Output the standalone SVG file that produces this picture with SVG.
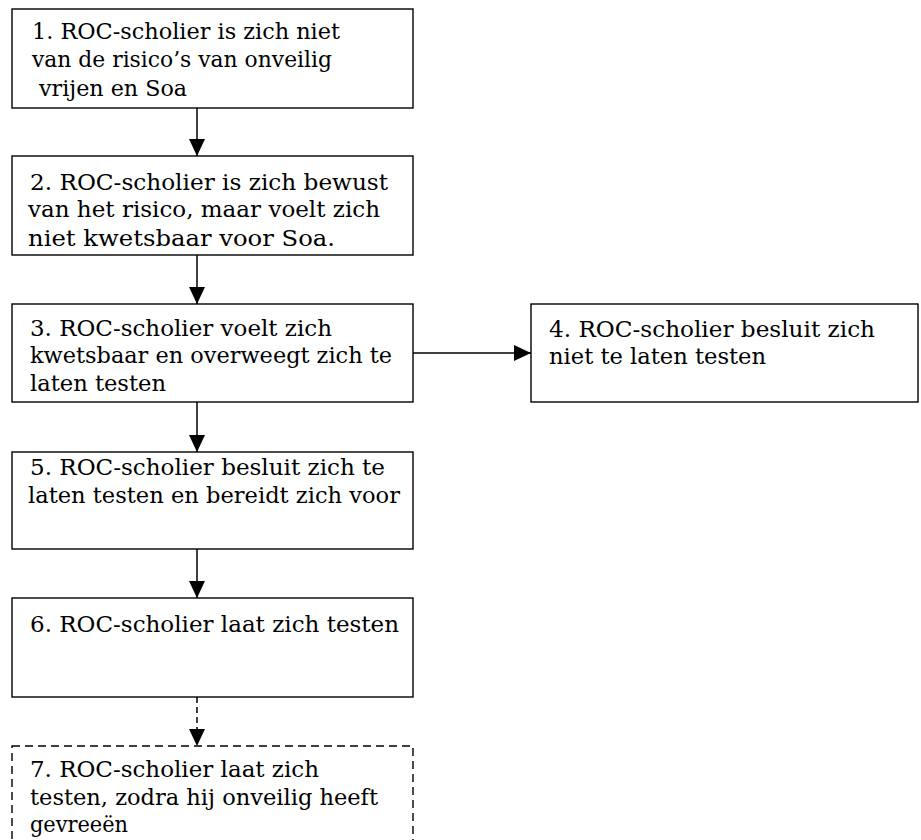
<svg xmlns="http://www.w3.org/2000/svg" width="921" height="840" viewBox="0 0 921 840">
<style>
.box{fill:#fff;stroke:#000;stroke-width:1.4}
.dbox{fill:#fff;stroke:#000;stroke-width:1.4;stroke-dasharray:8 5}
.t{font-family:"DejaVu Serif","Liberation Serif",serif;font-size:22px;fill:#000}
.c{stroke:#000;stroke-width:1.5;fill:none}
.cd{stroke:#000;stroke-width:1.5;fill:none;stroke-dasharray:6 4}
</style>
<defs>
<marker id="ah" markerUnits="userSpaceOnUse" markerWidth="17" markerHeight="16" refX="17" refY="8" orient="auto">
<path d="M0,0 L17,8 L0,16 z" fill="#000"/>
</marker>
</defs>
<rect width="921" height="840" fill="#fff"/>
<g id="connectors">
<line class="c" x1="197" y1="108" x2="197" y2="156" marker-end="url(#ah)"/>
<line class="c" x1="197" y1="255" x2="197" y2="304" marker-end="url(#ah)"/>
<line class="c" x1="197" y1="402" x2="197" y2="452" marker-end="url(#ah)"/>
<line class="c" x1="197" y1="549" x2="197" y2="598" marker-end="url(#ah)"/>
<line class="cd" x1="197" y1="697" x2="197" y2="746" marker-end="url(#ah)"/>
<line class="c" x1="413" y1="353" x2="531" y2="353" marker-end="url(#ah)"/>
</g>
<g id="node1">
<rect class="box" x="12" y="9" width="401" height="99"/>
<text class="t" x="32" y="39" textLength="308" lengthAdjust="spacingAndGlyphs">1. ROC-scholier is zich niet</text>
<text class="t" x="32" y="67" textLength="300" lengthAdjust="spacingAndGlyphs">van de risico’s van onveilig</text>
<text class="t" x="39" y="96" textLength="148" lengthAdjust="spacingAndGlyphs">vrijen en Soa</text>
</g>
<g id="node2">
<rect class="box" x="12" y="156" width="401" height="99"/>
<text class="t" x="30" y="190" textLength="358" lengthAdjust="spacingAndGlyphs">2. ROC-scholier is zich bewust</text>
<text class="t" x="28" y="217" textLength="352" lengthAdjust="spacingAndGlyphs">van het risico, maar voelt zich</text>
<text class="t" x="28" y="246" textLength="307" lengthAdjust="spacingAndGlyphs">niet kwetsbaar voor Soa.</text>
</g>
<g id="node3">
<rect class="box" x="12" y="304" width="401" height="98"/>
<text class="t" x="30" y="336" textLength="302" lengthAdjust="spacingAndGlyphs">3. ROC-scholier voelt zich</text>
<text class="t" x="30" y="363" textLength="362" lengthAdjust="spacingAndGlyphs">kwetsbaar en overweegt zich te</text>
<text class="t" x="30" y="391" textLength="136" lengthAdjust="spacingAndGlyphs">laten testen</text>
</g>
<g id="node4">
<rect class="box" x="531" y="304" width="387" height="98"/>
<text class="t" x="549" y="337" textLength="326" lengthAdjust="spacingAndGlyphs">4. ROC-scholier besluit zich</text>
<text class="t" x="549" y="364" textLength="217" lengthAdjust="spacingAndGlyphs">niet te laten testen</text>
</g>
<g id="node5">
<rect class="box" x="12" y="452" width="401" height="97"/>
<text class="t" x="30" y="475" textLength="355" lengthAdjust="spacingAndGlyphs">5. ROC-scholier besluit zich te</text>
<text class="t" x="28" y="503" textLength="372" lengthAdjust="spacingAndGlyphs">laten testen en bereidt zich voor</text>
</g>
<g id="node6">
<rect class="box" x="12" y="598" width="401" height="99"/>
<text class="t" x="30" y="632" textLength="369" lengthAdjust="spacingAndGlyphs">6. ROC-scholier laat zich testen</text>
</g>
<g id="node7">
<rect class="dbox" x="12" y="746" width="401" height="120"/>
<text class="t" x="30" y="777" textLength="289" lengthAdjust="spacingAndGlyphs">7. ROC-scholier laat zich</text>
<text class="t" x="30" y="805" textLength="348" lengthAdjust="spacingAndGlyphs">testen, zodra hij onveilig heeft</text>
<text class="t" x="30" y="832" textLength="98" lengthAdjust="spacingAndGlyphs">gevreeën</text>
</g>
</svg>
